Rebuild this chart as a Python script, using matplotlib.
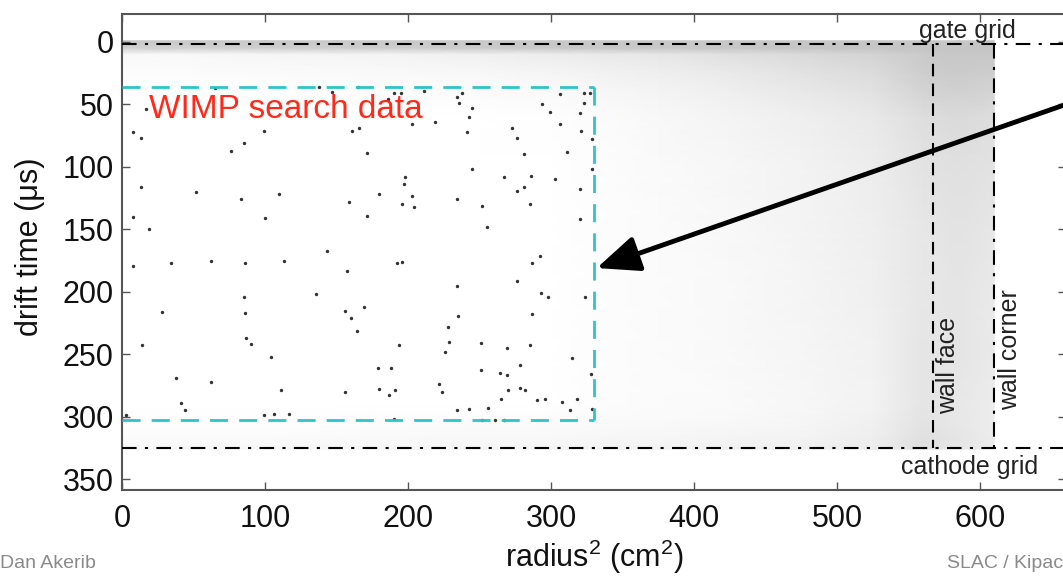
import numpy as np
import matplotlib
matplotlib.use('Agg')
import matplotlib.pyplot as plt
from matplotlib.colors import LinearSegmentedColormap

plt.rcParams['font.family'] = ['Liberation Sans', 'DejaVu Sans']
plt.rcParams['mathtext.fontset'] = 'custom'
plt.rcParams['mathtext.rm'] = 'Liberation Sans'

# background events: density of light grey points
grid_r2 = [0, 50, 100, 150, 200, 250, 300, 330, 375, 425, 475, 525, 560, 585, 610]
grid_t = [-1, 5, 10, 25, 40, 60, 100, 150, 200, 250, 290, 305, 318, 326]
density = [
    [0.90, 0.90, 0.90, 0.90, 0.90, 0.90, 0.90, 0.90, 0.90, 0.90, 0.92, 0.92, 0.92, 0.92, 0.92],
    [0.75, 0.75, 0.78, 0.80, 0.82, 0.85, 0.88, 0.90, 0.90, 0.92, 0.95, 0.95, 0.95, 0.95, 0.95],
    [0.12, 0.12, 0.15, 0.18, 0.20, 0.25, 0.30, 0.35, 0.40, 0.50, 0.60, 0.70, 0.85, 0.90, 0.90],
    [0.05, 0.05, 0.06, 0.08, 0.10, 0.12, 0.16, 0.20, 0.26, 0.35, 0.45, 0.58, 0.80, 0.85, 0.80],
    [0.02, 0.02, 0.03, 0.04, 0.05, 0.06, 0.08, 0.12, 0.18, 0.26, 0.36, 0.48, 0.70, 0.75, 0.70],
    [0.01, 0.01, 0.01, 0.01, 0.01, 0.01, 0.02, 0.05, 0.12, 0.18, 0.26, 0.36, 0.55, 0.60, 0.55],
    [0.01, 0.01, 0.01, 0.01, 0.01, 0.01, 0.01, 0.04, 0.08, 0.14, 0.20, 0.30, 0.45, 0.50, 0.45],
    [0.01, 0.01, 0.01, 0.01, 0.01, 0.01, 0.01, 0.04, 0.07, 0.12, 0.18, 0.26, 0.40, 0.45, 0.40],
    [0.01, 0.01, 0.01, 0.01, 0.01, 0.01, 0.01, 0.04, 0.07, 0.10, 0.16, 0.24, 0.40, 0.42, 0.35],
    [0.01, 0.01, 0.01, 0.01, 0.01, 0.01, 0.01, 0.04, 0.06, 0.10, 0.15, 0.22, 0.42, 0.42, 0.35],
    [0.01, 0.01, 0.01, 0.01, 0.01, 0.01, 0.01, 0.04, 0.06, 0.08, 0.13, 0.20, 0.42, 0.38, 0.30],
    [0.03, 0.03, 0.03, 0.04, 0.05, 0.06, 0.07, 0.08, 0.10, 0.12, 0.15, 0.24, 0.45, 0.38, 0.30],
    [0.06, 0.06, 0.07, 0.08, 0.10, 0.11, 0.12, 0.13, 0.15, 0.18, 0.20, 0.28, 0.50, 0.42, 0.30],
    [0.15, 0.15, 0.15, 0.16, 0.17, 0.18, 0.20, 0.20, 0.22, 0.24, 0.26, 0.30, 0.50, 0.40, 0.30],
]

# WIMP search data (dark points)
wimp_r2 = [13, 76, 85, 99, 52, 83, 110, 159, 19, 100, 143, 161, 8, 13, 8, 17, 65, 138, 147, 165,
           190, 211, 236, 195, 186, 166, 171, 171, 203, 219, 234, 238, 245, 243, 241, 273, 276, 294, 299, 306,
           323, 327, 323, 320, 306, 321, 329, 281, 311, 245, 267, 286, 276, 281, 303, 320, 329, 180, 198, 197,
           203, 204, 196, 234, 252, 285, 255, 320, 192, 196, 287, 292, 276, 234, 293, 298, 324, 287, 235, 228,
           194, 229, 226, 251, 269, 285, 315, 278, 251, 264, 269, 328, 188, 180, 191, 187, 222, 224, 270, 278,
           282, 265, 290, 296, 308, 318, 313, 329, 256, 234, 243, 190, 252, 261, 8, 34, 62, 86, 113, 157,
           85, 136, 28, 86, 156, 160, 164, 14, 87, 90, 104, 38, 62, 111, 156, 41, 44, 99, 106, 117,
           3, 169, 179, 267]
wimp_t = [77, 87, 81, 71, 120, 126, 122, 128, 150, 141, 167, 71, 72, 116, 140, 54, 37, 36, 40, 36,
          41, 39, 49, 41, 46, 69, 89, 139, 66, 64, 44, 41, 53, 60, 72, 69, 77, 50, 56, 42,
          41, 41, 49, 57, 66, 71, 78, 90, 88, 102, 108, 107, 119, 116, 110, 118, 102, 122, 108, 114,
          123, 132, 130, 126, 131, 130, 148, 142, 177, 176, 177, 171, 191, 195, 201, 204, 204, 218, 219, 228,
          243, 240, 248, 241, 245, 243, 253, 259, 263, 265, 267, 266, 261, 278, 279, 283, 274, 280, 279, 277,
          279, 286, 287, 286, 288, 286, 295, 294, 293, 295, 294, 302, 303, 303, 179, 177, 175, 177, 175, 183,
          204, 202, 216, 217, 215, 221, 231, 243, 237, 242, 252, 269, 272, 279, 280, 289, 295, 299, 298, 298,
          299, 212, 261, 303]

# fiducial box and detector boundaries
box_r2 = [0, 330]
box_t = [36, 303]
gate_t = 2
cathode_t = 325
wall_face_r2 = 567
wall_corner_r2 = 610

fig = plt.figure(figsize=(10.63, 5.77), dpi=100)
ax = fig.add_axes([0.1148, 0.1508, 0.8878, 0.8249])

cmap = LinearSegmentedColormap.from_list('bg', ['#ffffff', '#c2c2c2'])
X, Y = np.meshgrid(grid_r2, grid_t)
ax.pcolormesh(X, Y, np.array(density), shading='gouraud', cmap=cmap, vmin=0, vmax=1, zorder=1)

ax.scatter(wimp_r2, wimp_t, s=6, color='#333333', linewidths=0, zorder=3)

cyan = '#2ec4cc'
cyan_ls = (0, (6.5, 4))
ax.plot([box_r2[0], box_r2[1]], [box_t[0], box_t[0]], color=cyan, lw=2, ls=cyan_ls, zorder=4)
ax.plot([box_r2[0], box_r2[1]], [box_t[1], box_t[1]], color=cyan, lw=2, ls=cyan_ls, zorder=4)
ax.plot([box_r2[1], box_r2[1]], [box_t[0], box_t[1]], color=cyan, lw=2, ls=cyan_ls, zorder=4)

dashdot = (0, (7, 4, 1.5, 4))
ax.axhline(gate_t, color='black', lw=1.5, ls=dashdot, zorder=4)
ax.axhline(cathode_t, color='black', lw=1.5, ls=dashdot, zorder=4)
ax.plot([wall_face_r2, wall_face_r2], [gate_t, cathode_t], color='black', lw=1.5, ls=(0, (6, 3.5)), zorder=4)
ax.plot([wall_corner_r2, wall_corner_r2], [gate_t, cathode_t], color='black', lw=1.5, ls=dashdot, zorder=4)

ax.text(591, -9, 'gate grid', fontsize=18, ha='center', va='center', color='#222222', zorder=5)
ax.text(593, 340, 'cathode grid', fontsize=18, ha='center', va='center', color='#222222', zorder=5)
ax.text(578, 259, 'wall face', fontsize=18, rotation=90, ha='center', va='center', color='#222222', zorder=5)
ax.text(621, 246, 'wall corner', fontsize=18, rotation=90, ha='center', va='center', color='#222222', zorder=5)
ax.text(19, 54, 'WIMP search data', fontsize=24, ha='left', va='center', color='#ff2a1a', zorder=5)

ax.annotate('', xy=(332, 181), xytext=(690, 38),
            arrowprops=dict(arrowstyle='-|>,head_length=1.3,head_width=0.55', mutation_scale=20,
                            lw=3.5, color='black', shrinkA=0, shrinkB=0),
            annotation_clip=False, zorder=6)

ax.set_xlim(0, 660)
ax.set_ylim(358.7, -22.4)
ax.set_xticks([0, 100, 200, 300, 400, 500, 600])
ax.set_yticks([0, 50, 100, 150, 200, 250, 300, 350])
ax.tick_params(direction='in', length=6, width=1, top=True, right=True, labelsize=22,
               colors='#555555', labelcolor='#111111')
ax.tick_params(axis='x', pad=10)
ax.tick_params(axis='y', pad=6)
for sp in ax.spines.values():
    sp.set_color('#555555')
    sp.set_linewidth(1.5)

fig.text(0.0282, 0.572, 'drift time (μs)', rotation=90, fontsize=22, ha='center', va='center', color='#111111')
fig.text(0.559, 0.035, r'radius$^2$ (cm$^2$)', fontsize=22, ha='center', va='center', color='#111111')
fig.text(0.0, 0.024, 'Dan Akerib', fontsize=14, ha='left', va='center', color='#8a8a8a')
fig.text(1.0, 0.024, 'SLAC / Kipac', fontsize=14, ha='right', va='center', color='#8a8a8a')

fig.savefig('out.png', dpi=100)
